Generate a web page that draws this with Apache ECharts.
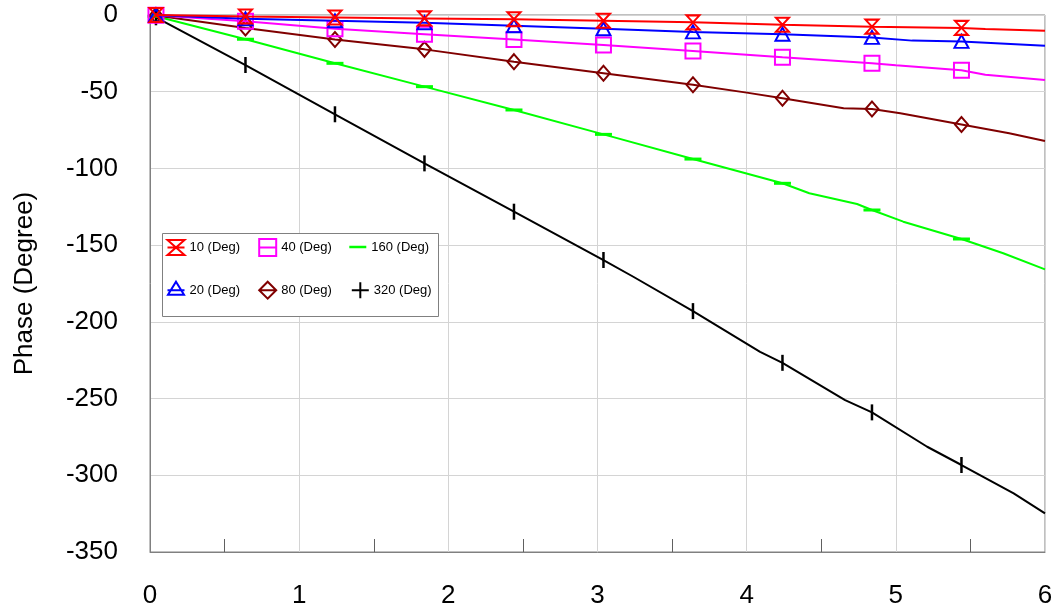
<!DOCTYPE html>
<html>
<head>
<meta charset="utf-8">
<script src="https://cdn.jsdelivr.net/npm/echarts@6/dist/echarts.min.js"></script>
<style>
html,body{margin:0;padding:0;background:#fff;}
#chart{width:1057px;height:611px;}
</style>
</head>
<body>
<div id="chart"></div>
<script>
// ---------- DATA ----------
const xTicks = [0, 1, 2, 3, 4, 5, 6];
const yTicks = [0, -50, -100, -150, -200, -250, -300, -350];
const seriesNames = ['10 (Deg)', '20 (Deg)', '40 (Deg)', '80 (Deg)', '160 (Deg)', '320 (Deg)'];
// x positions where markers are drawn
const markerX = [0.04, 0.64, 1.24, 1.84, 2.44, 3.04, 3.64, 4.24, 4.84, 5.44];

const phase10 = [[0.04,0],[0.64,-1],[1.24,-1.6],[1.84,-2.2],[2.44,-2.8],[3.04,-3.7],[3.64,-4.8],[4.24,-6.4],[4.84,-7.6],[5.44,-8.4],[5.6,-9.2],[6,-10.2]];
const phase20 = [[0.04,-0.1],[0.64,-2.5],[1.24,-3.8],[1.84,-5],[2.44,-7],[3.04,-9],[3.64,-11],[4.24,-12.5],[4.84,-14.6],[5.11,-16.7],[5.44,-17.2],[6,-20]];
const phase40 = [[0.04,-0.2],[0.64,-4],[1.24,-9],[1.84,-12.5],[2.44,-16],[3.04,-19.6],[3.64,-23.5],[4.24,-27.6],[4.84,-31.5],[5.0,-32.8],[5.44,-36],[5.6,-39],[6,-42.4]];
const phase80 = [[0.04,-0.4],[0.64,-8.5],[1.24,-16],[1.84,-22.4],[2.44,-30.4],[3.04,-38],[3.64,-45.5],[4.0,-50.6],[4.24,-54.3],[4.65,-60.8],[4.84,-61.3],[5.03,-64.1],[5.44,-71.3],[5.76,-77.1],[6,-82.1]];
const phase160 = [[0.04,-0.8],[0.64,-15.8],[1.24,-31.5],[1.84,-46.7],[2.44,-61.9],[3.04,-77.8],[3.64,-93.9],[4.24,-109.7],[4.42,-116.2],[4.74,-123.2],[4.84,-127.1],[5.05,-134.7],[5.44,-146],[5.72,-155.3],[6,-165.8]];
const phase320 = [[0.04,-1.5],[0.64,-32.6],[1.24,-64.7],[1.84,-96.7],[2.44,-128.2],[3.04,-159.7],[3.24,-170.6],[3.64,-193],[4.09,-219.5],[4.24,-226.7],[4.66,-251],[4.84,-259],[5.21,-281.4],[5.44,-293.3],[5.79,-311.8],[6,-324.8]];
const allPhases = [phase10, phase20, phase40, phase80, phase160, phase320];

// ---------- STYLES ----------
const FONT = 'Liberation Sans, Arial, Helvetica, sans-serif';
const styles = [
  { color: '#ff0000', symbol: 'path://M0,0L10,0L0,12L10,12Z', size: [13, 14], hollow: true,
    legendIcon: 'path://M0,0L17,0L0,15L17,15ZM0,7.5L17,7.5', legendH: 15, legendPos: [165, 237.5] },
  { color: '#0000ff', symbol: 'triangle', size: [14, 13], hollow: true,
    legendIcon: 'path://M8.5,0L16.5,13L0.5,13ZM0,8.5L17,8.5M0,17L0,17', legendH: 17, legendPos: [165, 279.2] },
  { color: '#ff00ff', symbol: 'rect', size: [15, 15], hollow: true,
    legendIcon: 'path://M0,0L17,0L17,17L0,17ZM0,8.5L17,8.5', legendH: 17, legendPos: [256.7, 236.5] },
  { color: '#800000', symbol: 'diamond', size: [13, 15], hollow: true,
    legendIcon: 'path://M8.5,0L17,8.5L8.5,17L0,8.5ZM0,8.5L17,8.5', legendH: 17, legendPos: [256.7, 279.2] },
  { color: '#00ff00', symbol: 'rect', size: [17, 3], hollow: false,
    legendIcon: 'rect', legendH: 2.5, legendPos: [349.3, 240.5] },
  { color: '#000000', symbol: 'rect', size: [2.5, 16], hollow: false,
    legendIcon: 'path://M0,8L17,8M8.5,0L8.5,16', legendH: 16, legendPos: [349.3, 279.7], stroke: true }
];

function toData(pts) {
  return pts.map(p => markerX.indexOf(p[0]) >= 0 ? { value: p } : { value: p, symbol: 'none' });
}

const series = [];
// draw in reverse so the 10 (Deg) curve is on top
for (let i = allPhases.length - 1; i >= 0; i--) {
  const s = styles[i];
  series.push({
    name: seriesNames[i],
    type: 'line',
    data: toData(allPhases[i]),
    showAllSymbol: true,
    symbol: s.symbol,
    symbolSize: s.size,
    lineStyle: { color: s.color, width: 2 },
    itemStyle: s.hollow
      ? { color: 'none', borderColor: s.color, borderWidth: 2 }
      : { color: s.color, borderWidth: 0 },
    emphasis: { disabled: true },
    animation: false,
    z: 3 + (allPhases.length - i)
  });
}

const legends = styles.map((s, i) => ({
  show: true,
  left: s.legendPos[0],
  top: s.legendPos[1],
  padding: 0,
  itemWidth: 17,
  itemHeight: s.legendH,
  selectedMode: false,
  z: 20,
  textStyle: { fontSize: 13, color: '#000', fontFamily: FONT },
  data: [{
    name: seriesNames[i],
    icon: s.legendIcon,
    itemStyle: (s.hollow || s.stroke)
      ? { color: 'none', borderColor: s.color, borderWidth: 2 }
      : { color: s.color, borderWidth: 0 }
  }]
}));

const chart = echarts.init(document.getElementById('chart'), null, { renderer: 'canvas' });
chart.setOption({
  backgroundColor: '#ffffff',
  animation: false,
  textStyle: { fontFamily: FONT },
  grid: {
    left: 150, right: 12, top: 15, bottom: 59,
    containLabel: false,
    show: true, borderColor: '#808080', borderWidth: 1, backgroundColor: 'transparent'
  },
  xAxis: {
    type: 'value',
    min: xTicks[0], max: xTicks[xTicks.length - 1], interval: 1,
    axisLine: { show: true, onZero: false, lineStyle: { color: '#808080', width: 1 } },
    axisTick: { show: false, inside: true },
    minorTick: { show: true, splitNumber: 2, length: 13, lineStyle: { color: '#606060', width: 1 } },
    minorSplitLine: { show: false },
    splitLine: { show: true, lineStyle: { color: '#d4d4d4', width: 1, type: 'solid' } },
    axisLabel: { show: true, fontSize: 26, color: '#000', margin: 31, fontFamily: FONT, showMinLabel: true, showMaxLabel: true }
  },
  yAxis: {
    type: 'value',
    min: yTicks[yTicks.length - 1], max: yTicks[0], interval: 50,
    name: 'Phase (Degree)',
    nameLocation: 'middle',
    nameGap: 112,
    nameRotate: 90,
    nameTextStyle: { fontSize: 26, color: '#000', fontFamily: FONT },
    axisLine: { show: true, onZero: false, lineStyle: { color: '#808080', width: 1 } },
    axisTick: { show: false },
    splitLine: { show: true, lineStyle: { color: '#d4d4d4', width: 1, type: 'solid' } },
    axisLabel: { show: true, fontSize: 26, color: '#000', margin: 32, fontFamily: FONT, showMinLabel: true, showMaxLabel: true }
  },
  legend: legends,
  graphic: [{
    type: 'rect',
    left: 162, top: 233,
    shape: { x: 0, y: 0, width: 276, height: 83 },
    style: { fill: '#ffffff', stroke: '#808080', lineWidth: 1 },
    z: 15
  }],
  series: series
});
</script>
</body>
</html>
